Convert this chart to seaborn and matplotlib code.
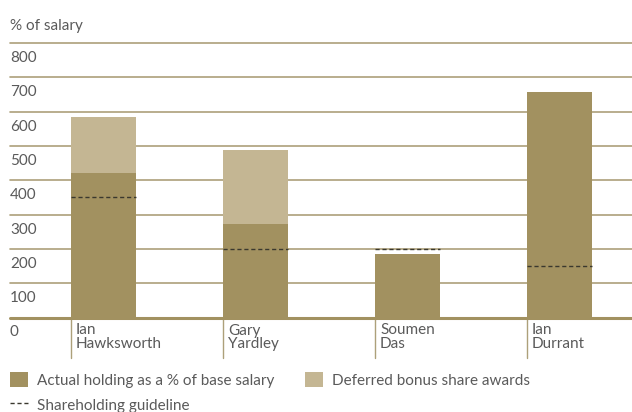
import matplotlib
matplotlib.use("Agg")
import matplotlib.pyplot as plt
import matplotlib.transforms as mtransforms
from matplotlib.patches import Patch
from matplotlib.lines import Line2D
import pandas as pd
import seaborn as sns

# Shareholding data, % of base salary
directors = ["Ian\nHawksworth", "Gary\nYardley", "Soumen\nDas", "Ian\nDurrant"]
actual_holding = [422, 273, 186, 657]
deferred_bonus = [163, 216, 0, 0]
guideline = [350, 200, 200, 150]
y_ticks = [0, 100, 200, 300, 400, 500, 600, 700, 800]

DARK = "#A29160"
LIGHT = "#C4B693"
GRID = "#ADA07A"
TEXT = "#5A5A5A"
DASH = "#3A382E"

sns.set_theme(style="white")
plt.rcParams["font.family"] = ["Lato", "DejaVu Sans"]
FS = 11
WEIGHT = "normal"

df = pd.DataFrame({
    "director": directors,
    "actual": actual_holding,
    "total": [a + d for a, d in zip(actual_holding, deferred_bonus)],
    "guideline": guideline,
})

fig = plt.figure(figsize=(6.32, 4.12), dpi=100)
W, H = 632, 412
zero_px, top_px = 317.5, 43.0
ax = fig.add_axes([10 / W, (H - zero_px) / H, 622 / W, (zero_px - top_px) / H])

bar_w = 65 / 152
sns.barplot(data=df, x="director", y="total", color=LIGHT, width=bar_w,
            saturation=1, ax=ax, zorder=3)
sns.barplot(data=df, x="director", y="actual", color=DARK, width=bar_w,
            saturation=1, ax=ax, zorder=4)

for p in ax.patches:
    p.set_edgecolor("none")
    p.set_linewidth(0)

# Shareholding guideline across each bar
for i, g in enumerate(df["guideline"]):
    ax.hlines(g, i - bar_w / 2, i + bar_w / 2, colors=DASH, linewidth=1.0,
              linestyles=(0, (3, 2)), zorder=5)

ax.set_xlim(-93.5 / 152, (W - 103.5) / 152)
ax.set_ylim(0, 800)

# Horizontal rules
for v in y_ticks:
    if v == 0:
        ax.axhline(v, color=DARK, linewidth=2.2, zorder=6, clip_on=False)
    else:
        ax.axhline(v, color=GRID, linewidth=1.2, zorder=1, clip_on=False)

ax.set_xticks([])
ax.set_yticks([])
ax.set_xlabel("")
ax.set_ylabel("")
for s in ax.spines.values():
    s.set_visible(False)

# Y values written just below each rule
ylab_tr = mtransforms.blended_transform_factory(ax.transAxes, ax.transData) + \
    mtransforms.ScaledTranslation(0, -19 / 100, fig.dpi_scale_trans)
for v in y_ticks:
    ax.text(0, v, str(v), transform=ylab_tr, ha="left", va="baseline",
            fontsize=FS, color=TEXT, fontweight=WEIGHT)

# Category separators and names below the baseline
sep_tr = mtransforms.blended_transform_factory(ax.transData, fig.transFigure)
for i, name in enumerate(df["director"]):
    left = i - bar_w / 2
    ax.plot([left, left], [(H - zero_px) / H, (H - 358) / H], transform=sep_tr,
            color=GRID, linewidth=1.0, clip_on=False, zorder=2)
    name_tr = mtransforms.blended_transform_factory(ax.transData, ax.transData) + \
        mtransforms.ScaledTranslation(5 / 100, -6 / 100, fig.dpi_scale_trans)
    ax.text(left, 0, name, transform=name_tr, ha="left", va="top",
            fontsize=FS, color=TEXT, linespacing=0.95, fontweight=WEIGHT)

fig.text(10 / W, 1 - 30 / H, "% of salary", ha="left", va="baseline",
         fontsize=FS, color=TEXT, fontweight=WEIGHT)

handles = [
    Patch(facecolor=DARK, edgecolor="none", label="Actual holding as a % of base salary"),
    Line2D([0], [0], color=DASH, linewidth=1.0, linestyle=(0, (3, 2)),
           label="Shareholding guideline"),
    Patch(facecolor=LIGHT, edgecolor="none", label="Deferred bonus share awards"),
]
leg = fig.legend(handles=handles, loc="upper left", ncol=2,
                 bbox_to_anchor=(10 / W, 1 - 372 / H), bbox_transform=fig.transFigure,
                 frameon=False, fontsize=FS, borderpad=0, borderaxespad=0,
                 handlelength=18 / 15.3, handleheight=18 / 15.3,
                 handletextpad=0.6, columnspacing=2.0, labelspacing=0.6)
for t in leg.get_texts():
    t.set_color(TEXT)
    t.set_fontweight(WEIGHT)

fig.savefig("out.png", dpi=100)
